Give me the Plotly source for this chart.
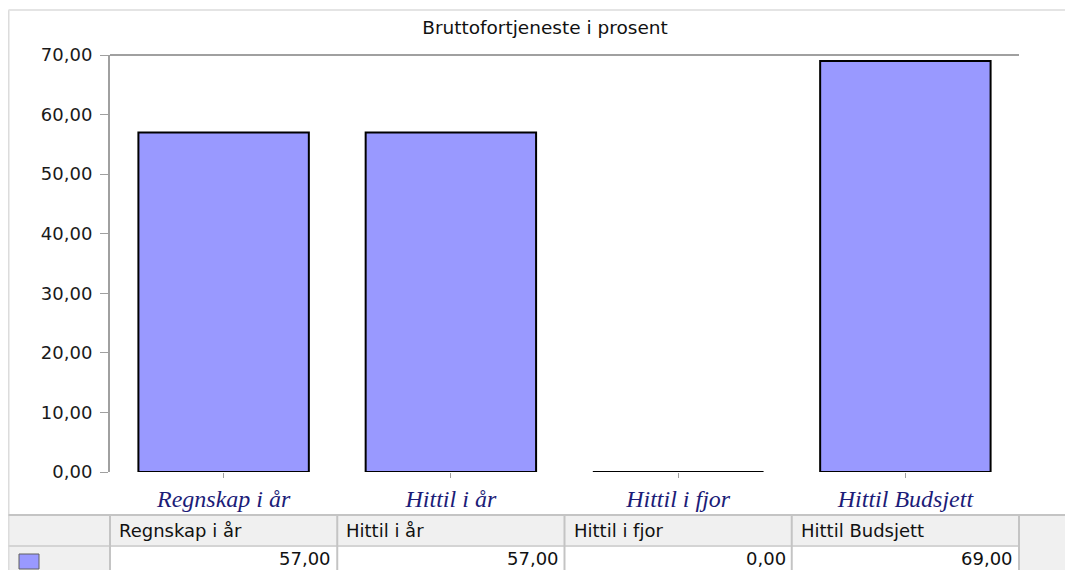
import plotly.graph_objects as go

# ---- data ----
categories = ["Regnskap i år", "Hittil i år", "Hittil i fjor", "Hittil Budsjett"]
values = [57.00, 57.00, 0.00, 69.00]
y_ticks = [0, 10, 20, 30, 40, 50, 60, 70]
title_text = "Bruttofortjeneste i prosent"

# the page body has an 8px margin, so the figure starts at (8, 8) of the window
OFF = 8
WIN_W, WIN_H = 1073, 570
W, H = WIN_W - OFF, WIN_H - OFF
L, R, T, B = 110, 1019, 55, 472  # plot area, window pixels


def px(xpix):
    return (xpix - L) / (R - L)


def py(ypix):
    return (B - ypix) / (B - T)


def fmt(v):
    return f"{v:.2f}".replace(".", ",")


bar_color = "#9999ff"

fig = go.Figure()
fig.add_trace(go.Bar(
    x=list(range(len(categories))),
    y=values,
    width=0.75,
    marker=dict(color=bar_color, line=dict(color="#000000", width=2)),
    hoverinfo="skip",
    showlegend=False,
))

# zero-valued bars are drawn as a flat outline at the baseline
zero_x, zero_y = [], []
for i, v in enumerate(values):
    if v == 0:
        zero_x += [i - 0.375, i + 0.375, None]
        zero_y += [v, v, None]
if zero_x:
    fig.add_trace(go.Scatter(x=zero_x, y=zero_y, mode="lines",
                             line=dict(color="#000000", width=2),
                             hoverinfo="skip", showlegend=False))

shapes = []
grid = "#c4c4c4"
left_edge = OFF + 0.5
# outer frame lines
shapes.append(dict(type="line", xref="paper", yref="paper", x0=px(left_edge), x1=px(left_edge),
                   y0=py(10), y1=py(WIN_H + 5), line=dict(color="#dcdcdc", width=2)))
shapes.append(dict(type="line", xref="paper", yref="paper", x0=px(left_edge), x1=px(WIN_W + 5),
                   y0=py(10), y1=py(10), line=dict(color="#e4e4e4", width=2)))
# top line of plot area
shapes.append(dict(type="line", xref="paper", yref="paper", x0=0, x1=1, y0=1, y1=1,
                   line=dict(color="#a0a0a0", width=2)))

# table
tbl_top, hdr_bot = 515, 546
n = len(categories)
shapes.append(dict(type="rect", xref="paper", yref="paper", x0=px(left_edge), x1=px(WIN_W + 5),
                   y0=py(tbl_top), y1=py(WIN_H + 5), fillcolor="#f0f0f0", line=dict(width=0), layer="below"))
shapes.append(dict(type="rect", xref="paper", yref="paper", x0=0, x1=1, y0=py(hdr_bot), y1=py(WIN_H + 5),
                   fillcolor="#ffffff", line=dict(width=0), layer="below"))
shapes.append(dict(type="line", xref="paper", yref="paper", x0=px(left_edge), x1=px(WIN_W + 5),
                   y0=py(tbl_top), y1=py(tbl_top), line=dict(color=grid, width=2)))
shapes.append(dict(type="line", xref="paper", yref="paper", x0=px(left_edge), x1=1,
                   y0=py(hdr_bot), y1=py(hdr_bot), line=dict(color="#d4d4d4", width=2)))
for i in range(n + 1):
    shapes.append(dict(type="line", xref="paper", yref="paper", x0=i / n, x1=i / n,
                       y0=py(tbl_top), y1=py(WIN_H + 5), line=dict(color=grid, width=2)))
# legend swatch
shapes.append(dict(type="rect", xref="paper", yref="paper", x0=px(19), x1=px(39), y0=py(554), y1=py(569),
                   fillcolor=bar_color, line=dict(color="#606060", width=1)))

annotations = []
dx_left = px(L + 7) - px(L)
dx_right = px(L + 4) - px(L)
for i, (c, v) in enumerate(zip(categories, values)):
    annotations.append(dict(xref="paper", yref="paper", x=i / n + dx_left, y=py(530),
                            text=c, showarrow=False, xanchor="left", yanchor="middle",
                            font=dict(family="DejaVu Sans", size=18, color="#111111")))
    annotations.append(dict(xref="paper", yref="paper", x=(i + 1) / n - dx_right, y=py(558),
                            text=fmt(v), showarrow=False, xanchor="right", yanchor="middle",
                            font=dict(family="DejaVu Sans", size=18, color="#111111")))

fig.update_layout(
    width=W, height=H,
    margin=dict(l=L - OFF, r=WIN_W - R, t=T - OFF, b=WIN_H - B, pad=0),
    paper_bgcolor="#ffffff",
    plot_bgcolor="#ffffff",
    separators=",.",
    title=dict(text=title_text, x=(545 - OFF) / W, xref="container", xanchor="center",
               y=1 - (28 - OFF) / H, yref="container", yanchor="middle",
               font=dict(family="DejaVu Sans", size=18.5, color="#111111")),
    xaxis=dict(
        range=[-0.5, n - 0.5],
        tickvals=list(range(n)),
        ticktext=categories,
        showgrid=False, zeroline=False, showline=False,
        ticks="outside", ticklen=5, tickwidth=1, tickcolor="#a0a0a0",
        tickfont=dict(family="Liberation Serif", size=24, color="#1c1c78", style="italic"),
        fixedrange=True,
    ),
    yaxis=dict(
        range=[0, 70],
        tickvals=y_ticks,
        tickformat=".2f",
        showgrid=False, zeroline=False,
        showline=True, linecolor="#a0a0a0", linewidth=2,
        ticks="outside", ticklen=8, tickwidth=1, tickcolor="#a0a0a0",
        tickfont=dict(family="DejaVu Sans", size=18, color="#1a1a1a"),
        ticklabelstandoff=4,
        fixedrange=True,
    ),
    shapes=shapes,
    annotations=annotations,
    showlegend=False,
)

fig.write_html("out.html")
